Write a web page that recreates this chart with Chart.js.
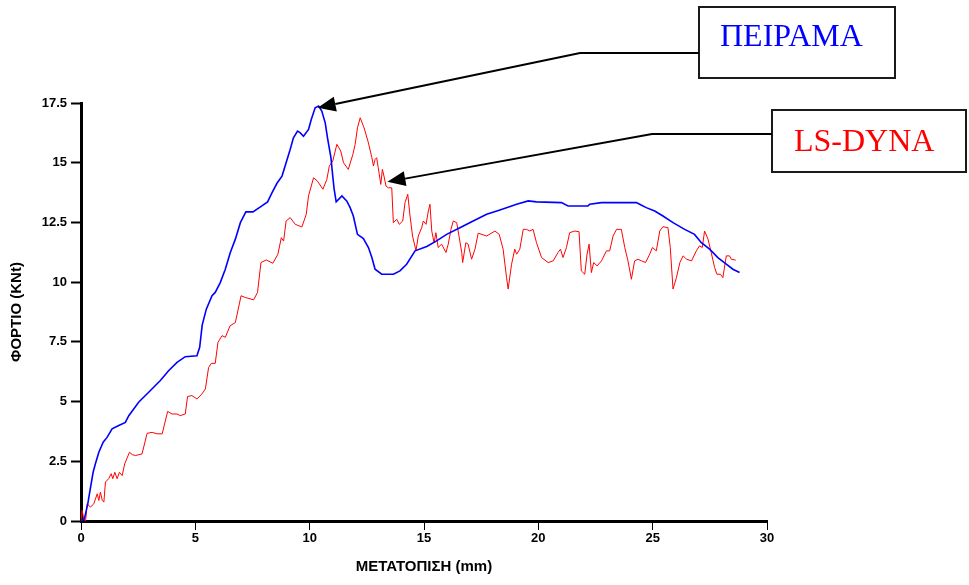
<!DOCTYPE html>
<html>
<head>
<meta charset="utf-8">
<script src="https://cdn.jsdelivr.net/npm/chart.js@4/dist/chart.umd.min.js"></script>
<style>
  html, body { margin: 0; padding: 0; background: #ffffff; }
  #wrap { width: 969px; height: 585px; position: relative; }
</style>
</head>
<body>
<div id="wrap"><canvas id="c" width="969" height="585"></canvas></div>
<script>
// Experiment (ΠΕΙΡΑΜΑ): displacement in mm, load in kN
const testX = [0,0.15,0.3,0.37,0.53,0.63,0.78,0.97,1.14,1.36,1.65,1.94,2.09,2.52,2.96,3.47,3.83,4.2,4.56,5.07,5.19,5.3,5.48,5.73,5.87,6.09,6.31,6.53,6.75,6.97,7.21,7.52,7.91,8.16,8.35,8.57,8.79,8.97,9.15,9.29,9.47,9.59,9.73,9.95,10.07,10.24,10.39,10.53,10.68,10.78,10.93,11.01,11.07,11.16,11.41,11.62,11.77,11.91,12.09,12.35,12.57,12.72,12.86,13.15,13.66,13.95,14.24,14.61,15.12,15.55,15.99,16.57,17.15,17.74,18.32,18.83,19.05,19.56,19.92,21.01,21.3,22.17,22.25,22.76,24.29,24.43,24.72,25.09,25.45,25.89,26.4,26.83,27.13,27.49,27.85,28.22,28.51,28.8];
const testY = [0,0.1,0.74,1.15,2.04,2.4,2.88,3.3,3.5,3.86,4.0,4.13,4.41,4.97,5.39,5.88,6.29,6.64,6.88,6.92,7.27,8.2,8.87,9.43,9.57,9.98,10.54,11.24,11.8,12.49,12.94,12.94,13.19,13.36,13.74,14.14,14.44,15.0,15.56,16.04,16.32,16.25,16.11,16.39,16.81,17.3,17.37,17.16,16.67,16.04,15.21,14.44,13.89,13.36,13.61,13.4,13.12,12.77,12.0,11.82,11.45,11.03,10.54,10.33,10.33,10.47,10.75,11.31,11.49,11.73,12.0,12.28,12.56,12.84,13.02,13.19,13.26,13.4,13.36,13.33,13.19,13.19,13.26,13.33,13.33,13.26,13.12,12.98,12.77,12.49,12.21,12.0,11.65,11.38,11.03,10.75,10.54,10.4];

// LS-DYNA simulation: displacement in mm, load in kN
const dynaX = [0,0.05,0.12,0.2,0.27,0.41,0.56,0.71,0.78,0.85,0.93,1.0,1.07,1.21,1.32,1.39,1.48,1.58,1.68,1.8,1.91,2.12,2.24,2.38,2.67,2.89,3.11,3.33,3.55,3.79,3.98,4.2,4.34,4.56,4.66,4.85,5.07,5.29,5.44,5.58,5.7,5.87,5.99,6.17,6.31,6.52,6.75,7.0,7.18,7.55,7.72,7.87,8.1,8.39,8.61,8.76,8.86,8.97,9.15,9.37,9.66,9.85,9.95,10.17,10.34,10.58,10.75,10.86,11.01,11.19,11.36,11.48,11.69,11.89,11.99,12.09,12.21,12.38,12.57,12.72,12.79,12.86,12.93,13.0,13.11,13.18,13.25,13.34,13.44,13.59,13.66,13.81,13.92,14.07,14.17,14.29,14.39,14.5,14.65,14.75,14.9,14.97,15.09,15.19,15.26,15.34,15.44,15.52,15.62,15.77,15.96,16.06,16.18,16.28,16.43,16.53,16.65,16.69,16.83,16.93,17.08,17.23,17.37,17.74,18.1,18.29,18.46,18.61,18.68,18.83,18.97,19.05,19.19,19.34,19.48,19.63,19.77,19.92,20.14,20.43,20.65,20.86,20.97,21.08,21.23,21.37,21.59,21.78,21.88,22.03,22.13,22.22,22.32,22.42,22.57,22.76,22.98,23.12,23.27,23.42,23.63,23.78,23.92,24.07,24.21,24.36,24.51,24.69,24.87,24.99,25.16,25.31,25.45,25.67,25.77,25.89,26.04,26.19,26.33,26.48,26.7,26.91,27.05,27.17,27.27,27.42,27.56,27.71,27.81,27.96,28.07,28.22,28.36,28.44,28.63];
const dynaY = [0,0.45,0.1,0,0.72,0.58,0.72,1.14,0.86,1.21,0.86,0.79,1.63,1.77,1.98,1.77,2.04,1.77,2.04,1.9,2.39,2.88,2.78,2.74,2.81,3.67,3.71,3.65,3.65,4.59,4.48,4.48,4.41,4.48,5.21,5.25,5.11,5.32,5.53,6.43,6.6,6.6,7.48,7.76,7.69,8.17,8.31,9.43,9.36,9.26,9.57,10.82,10.93,10.79,11.17,11.86,11.72,12.56,12.7,12.42,12.31,12.84,13.61,14.37,14.23,13.89,14.3,14.86,15.07,15.77,15.49,15.0,14.72,15.35,15.77,16.46,16.88,16.46,15.83,15.21,14.86,15.14,15.21,14.79,14.09,14.72,14.44,14.02,13.95,13.95,12.49,12.63,12.42,12.56,13.33,13.68,12.77,11.93,11.31,11.93,12.28,12.56,12.42,12.98,13.26,12.14,11.65,12.07,11.45,11.59,11.24,11.59,12.21,12.56,12.49,11.93,11.24,10.82,11.65,11.59,10.96,11.38,12.05,11.93,12.14,12.0,11.38,10.19,9.71,10.75,11.38,11.17,11.38,12.21,12.21,12.14,12.21,11.65,11.03,10.82,10.89,11.24,11.38,11.03,11.45,12.07,12.14,12.11,10.47,10.33,11.17,11.59,10.4,10.82,10.68,10.89,11.31,11.31,11.93,12.21,12.21,11.45,10.89,10.12,10.89,10.96,10.89,10.82,11.17,11.45,11.31,12.14,12.32,12.28,11.45,9.71,10.19,10.82,11.1,10.96,10.89,11.31,11.52,11.45,12.14,11.8,11.24,10.61,10.33,10.33,10.19,11.1,11.1,10.96,10.92];

// Axis ticks and labels
const xTicks = [0, 5, 10, 15, 20, 25, 30];
const yTicks = [0, 2.5, 5, 7.5, 10, 12.5, 15, 17.5];
const xTitle = 'ΜΕΤΑΤΟΠΙΣΗ (mm)';
const yTitle = 'ΦΟΡΤΙΟ (KNt)';

// Callout labels and the curve points their arrows point to
const calloutText = ['ΠΕΙΡΑΜΑ', 'LS-DYNA'];
const calloutX = [10.35, 13.4];
const calloutY = [17.3, 14.2];

const toPoints = (xs, ys) => xs.map((x, i) => ({ x, y: ys[i] }));

const calloutPlugin = {
  id: 'callouts',
  afterDraw(chart) {
    const ctx = chart.ctx;
    const xs = chart.scales.x, ys = chart.scales.y;
    const layout = [
      { color: '#0000ff', box: [699, 7, 196, 71], elbowX: 580, lineY: 53, textX: 720, textY: 46 },
      { color: '#ff0000', box: [772, 110, 194, 62], elbowX: 652, lineY: 134, textX: 794, textY: 151 }
    ];
    ctx.save();
    layout.forEach((c, i) => {
      const tx = xs.getPixelForValue(calloutX[i]);
      const ty = ys.getPixelForValue(calloutY[i]);
      // box
      ctx.lineWidth = 2;
      ctx.strokeStyle = '#1a1a1a';
      ctx.strokeRect(c.box[0], c.box[1], c.box[2], c.box[3]);
      // label
      ctx.fillStyle = c.color;
      ctx.font = '32px "Liberation Serif", "Times New Roman", serif';
      ctx.textAlign = 'left';
      ctx.textBaseline = 'alphabetic';
      ctx.fillText(calloutText[i], c.textX, c.textY);
      // leader line with arrowhead
      const ang = Math.atan2(ty - c.lineY, tx - c.elbowX);
      const headLen = 18, headHalf = 7.5;
      const bx = tx - headLen * Math.cos(ang), by = ty - headLen * Math.sin(ang);
      ctx.strokeStyle = '#000000';
      ctx.lineWidth = 2;
      ctx.beginPath();
      ctx.moveTo(c.box[0], c.lineY);
      ctx.lineTo(c.elbowX, c.lineY);
      ctx.lineTo(bx, by);
      ctx.stroke();
      ctx.fillStyle = '#000000';
      ctx.beginPath();
      ctx.moveTo(tx, ty);
      ctx.lineTo(bx + headHalf * Math.sin(ang), by - headHalf * Math.cos(ang));
      ctx.lineTo(bx - headHalf * Math.sin(ang), by + headHalf * Math.cos(ang));
      ctx.closePath();
      ctx.fill();
    });
    ctx.restore();
  }
};

const tickFont = { family: '"Liberation Sans", Arial, sans-serif', size: 13, weight: 'bold' };
const titleFont = { family: '"Liberation Sans", Arial, sans-serif', size: 15, weight: 'bold' };

new Chart(document.getElementById('c'), {
  type: 'scatter',
  data: {
    datasets: [
      {
        label: calloutText[0],
        data: toPoints(testX, testY),
        showLine: true,
        borderColor: '#0000ff',
        borderWidth: 1.6,
        pointRadius: 0,
        tension: 0
      },
      {
        label: calloutText[1],
        data: toPoints(dynaX, dynaY),
        showLine: true,
        borderColor: '#ff0000',
        borderWidth: 1,
        pointRadius: 0,
        tension: 0
      }
    ]
  },
  options: {
    responsive: false,
    animation: false,
    events: [],
    layout: { padding: { left: 0, top: 103, right: 202, bottom: 0 } },
    plugins: { legend: { display: false }, tooltip: { enabled: false } },
    scales: {
      x: {
        type: 'linear',
        min: 0,
        max: 30,
        afterBuildTicks: s => { s.ticks = xTicks.map(v => ({ value: v })); },
        afterFit: s => { s.height = 64; },
        ticks: { font: tickFont, color: '#000000', padding: 1, maxRotation: 0 },
        grid: { drawOnChartArea: false, drawTicks: true, tickLength: 9, tickWidth: 1, tickColor: '#000000' },
        border: { display: true, color: '#000000', width: 3 },
        title: { display: true, text: xTitle, font: titleFont, color: '#000000', padding: { top: 0, bottom: 9 } }
      },
      y: {
        type: 'linear',
        min: 0,
        max: 17.5,
        afterBuildTicks: s => { s.ticks = yTicks.map(v => ({ value: v })); },
        afterFit: s => { s.width = 81; },
        ticks: { font: tickFont, color: '#000000', padding: 4 },
        grid: { drawOnChartArea: false, drawTicks: true, tickLength: 10, tickWidth: 2, tickColor: '#000000' },
        border: { display: true, color: '#000000', width: 3 },
        title: { display: true, text: yTitle, font: titleFont, color: '#000000', padding: { top: 8, bottom: 0 } }
      }
    }
  },
  plugins: [calloutPlugin]
});
</script>
</body>
</html>
